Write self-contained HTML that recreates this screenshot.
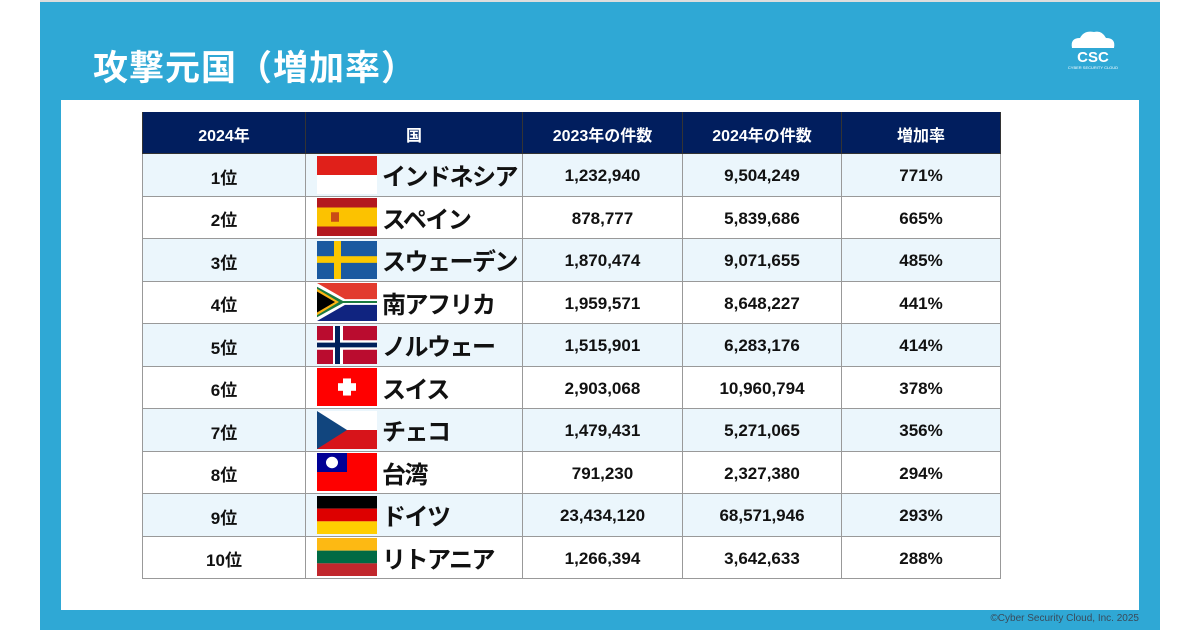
<!DOCTYPE html>
<html><head><meta charset="utf-8">
<style>
*{margin:0;padding:0;box-sizing:border-box}
body{width:1200px;height:630px;background:#fff;position:relative;overflow:hidden;font-family:"Liberation Sans","Noto Sans CJK JP",sans-serif}
#bg{position:absolute;left:40px;top:0;width:1120px;height:630px;background:#2fa8d5;border-top:2px solid #ddd}
#title{position:absolute;left:93px;top:40px;font-size:35px;font-weight:bold;color:#fff;letter-spacing:1px;font-family:"Noto Sans CJK JP",sans-serif}
#panel{position:absolute;left:61px;top:100px;width:1078px;height:510px;background:#fff}
#copy{position:absolute;right:61px;top:613px;font-size:10px;color:#3a4a5a}
#logo{position:absolute;left:1062px;top:28px}
.cell{position:absolute;display:flex;align-items:center;justify-content:center;font-weight:bold;font-size:17px;color:#111;border-right:1px solid #999;border-bottom:1px solid #999;padding-top:3px;white-space:nowrap}
.hd{background:#011e5e;color:#fff;font-size:16px;border-color:#333}
.ct{justify-content:flex-start;font-size:24px;font-family:"Noto Sans CJK JP",sans-serif;letter-spacing:-1.5px;padding-top:0;overflow:hidden}
</style></head><body>
<div id="bg"></div>
<div id="title">攻撃元国（増加率）</div>
<svg id="logo" width="62" height="44" viewBox="0 0 62 44">
<path d="M10 20 Q8 10 18 10 Q22 2 32 4 Q40 2 44 10 Q54 10 52 20 Z" fill="#fff"/>
<text x="31" y="34" text-anchor="middle" font-size="15" font-weight="bold" fill="#fff" font-family="Liberation Sans">CSC</text>
<text x="31" y="41" text-anchor="middle" font-size="4" fill="#fff" font-family="Liberation Sans">CYBER SECURITY CLOUD</text>
</svg>
<div id="panel"></div>
<div id="tbl"></div>
<div id="copy">©Cyber Security Cloud, Inc. 2025</div>
<script>
const headers=["2024年","国","2023年の件数","2024年の件数","増加率"];
const ranks=["1位","2位","3位","4位","5位","6位","7位","8位","9位","10位"];
const countries=["インドネシア","スペイン","スウェーデン","南アフリカ","ノルウェー","スイス","チェコ","台湾","ドイツ","リトアニア"];
const counts2023=["1,232,940","878,777","1,870,474","1,959,571","1,515,901","2,903,068","1,479,431","791,230","23,434,120","1,266,394"];
const counts2024=["9,504,249","5,839,686","9,071,655","8,648,227","6,283,176","10,960,794","5,271,065","2,327,380","68,571,946","3,642,633"];
const rates=["771%","665%","485%","441%","414%","378%","356%","294%","293%","288%"];
const flags=[
'<rect width="60" height="20" fill="#e0201a"/><rect y="20" width="60" height="20" fill="#fff"/>',
'<rect width="60" height="40" fill="#b3191f"/><rect y="10" width="60" height="20" fill="#fcc200"/><rect x="14" y="15" width="8" height="10" fill="#b3191f" opacity=".7"/>',
'<rect width="60" height="40" fill="#1b5aa0"/><rect x="17" width="7" height="40" fill="#fcc800"/><rect y="16" width="60" height="7" fill="#fcc800"/>',
'<rect width="60" height="20" fill="#e23b2e"/><rect y="20" width="60" height="20" fill="#102480"/><path d="M0 0 L28 17 L60 17 L60 23 L28 23 L0 40 Z" fill="#fff"/><path d="M0 4 L26 19 L60 19 L60 21 L26 21 L0 36 Z" fill="#1a7a40"/><path d="M0 6 L22 20 L0 34Z" fill="#fcb514"/><path d="M0 9 L18 20 L0 31Z" fill="#000"/>',
'<rect width="60" height="40" fill="#ba0c2f"/><rect x="16" width="10" height="40" fill="#fff"/><rect y="15" width="60" height="10" fill="#fff"/><rect x="18" width="5" height="40" fill="#00205b"/><rect y="17.5" width="60" height="5" fill="#00205b"/>',
'<rect width="60" height="40" fill="#ff0000"/><rect x="26" y="11" width="8" height="18" fill="#fff"/><rect x="21" y="16" width="18" height="8" fill="#fff"/>',
'<rect width="60" height="20" fill="#fff"/><rect y="20" width="60" height="20" fill="#d7141a"/><path d="M0 0 L30 20 L0 40Z" fill="#11457e"/>',
'<rect width="60" height="40" fill="#fe0000"/><rect width="30" height="20" fill="#000095"/><circle cx="15" cy="10" r="6" fill="#fff"/>',
'<rect width="60" height="13.3" fill="#000"/><rect y="13.3" width="60" height="13.4" fill="#dd0000"/><rect y="26.7" width="60" height="13.3" fill="#ffce00"/>',
'<rect width="60" height="13.3" fill="#fdb913"/><rect y="13.3" width="60" height="13.4" fill="#006a44"/><rect y="26.7" width="60" height="13.3" fill="#c1272d"/>'
];
const colX=[142,306,523,683,842,1001];
const top0=112, hdH=42, rowH=42.5;
const body=document.body;
function cell(x,y,w,h,txt,cls){
  const d=document.createElement('div');
  d.className='cell '+cls;
  d.style.left=x+'px';d.style.top=y+'px';d.style.width=w+'px';d.style.height=h+'px';
  d.textContent=txt;body.appendChild(d);return d;
}
headers.forEach((h,i)=>{
  const d=cell(colX[i],top0,colX[i+1]-colX[i],hdH,h,'hd');
  
  
  if(i===0)d.style.borderLeft='1px solid #333';
});
ranks.forEach((r,j)=>{
  const y=top0+hdH+j*rowH;
  const bg=j%2===0?'#ebf6fc':'#fff';
  const vals=[r,countries[j],counts2023[j],counts2024[j],rates[j]];
  vals.forEach((v,i)=>{
    const d=cell(colX[i],y,colX[i+1]-colX[i],rowH,i===1?'':v,i===1?'ct':'');
    d.style.background=bg;
    if(i===0)d.style.borderLeft='1px solid #999';
    
    
    if(i===1){
      d.style.paddingLeft='11px';
      const s=document.createElementNS('http://www.w3.org/2000/svg','svg');
      s.setAttribute('width','60');s.setAttribute('height','38');s.setAttribute('viewBox','0 0 60 40');
      s.setAttribute('preserveAspectRatio','none');
      s.style.marginRight='5px';s.style.flex='none';
      s.innerHTML=flags[j];
      
      
      d.appendChild(s);
      const t=document.createElement('span');t.textContent=v;
      
      
      d.appendChild(t);
    }
  });
});
</script>
</body></html>
